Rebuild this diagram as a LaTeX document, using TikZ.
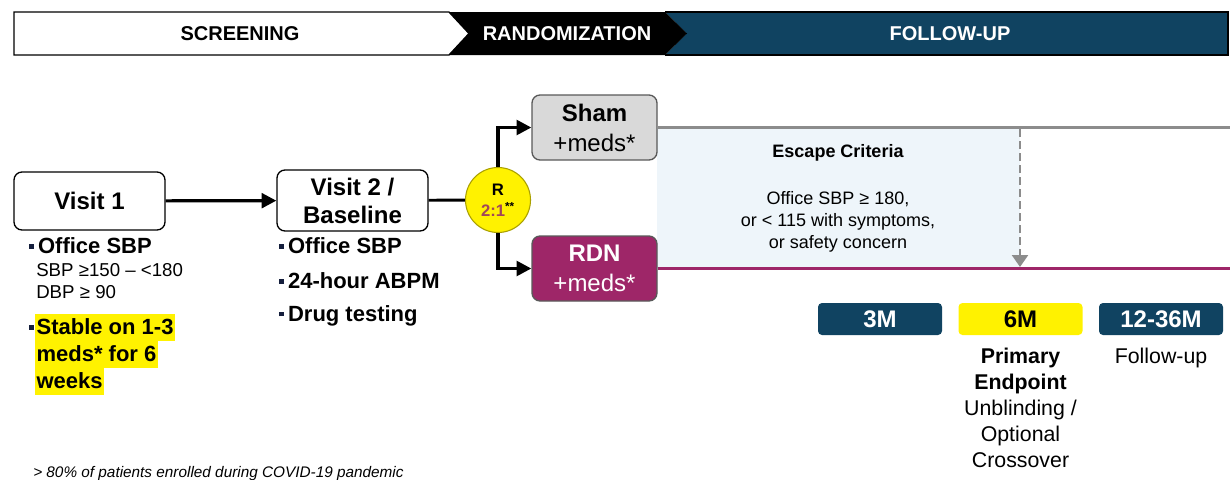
\documentclass[tikz,border=0pt]{standalone}
\usepackage{fontspec}
\setmainfont{Liberation Sans}
\usepackage{xcolor}
\usetikzlibrary{calc,shapes,arrows.meta,positioning,backgrounds}

\definecolor{fuBlue}{RGB}{16,67,97}
\definecolor{rdnMag}{RGB}{158,38,104}
\definecolor{shamGrey}{RGB}{217,217,217}
\definecolor{escBlue}{RGB}{238,245,250}
\definecolor{lineGrey}{RGB}{140,140,140}
\definecolor{ratioC}{RGB}{160,70,90}
\definecolor{ballEdge}{RGB}{170,160,0}
\definecolor{bulC}{RGB}{20,30,60}

\newcommand{\sqbul}{{\color{bulC}\rule[4pt]{3.6pt}{3.6pt}}\hspace{3pt}}

\begin{document}
\begin{tikzpicture}[x=0.75pt,y=-0.75pt,
    box/.style={draw,rounded corners=6pt,line width=1pt,inner sep=0pt,align=center},
    mbox/.style={rounded corners=3pt,inner sep=0pt,minimum width=93pt,minimum height=24pt,font=\fontsize{18}{20}\selectfont\bfseries},
    bul/.style={anchor=west,inner sep=0pt,font=\fontsize{16.5}{19}\selectfont\bfseries},
    sub/.style={anchor=west,inner sep=0pt,font=\fontsize{14}{16}\selectfont},
    hl/.style={anchor=west,fill=yellow,inner xsep=1pt,inner ysep=0pt,minimum height=20.25pt,font=\fontsize{16.5}{19}\selectfont\bfseries},
    flow/.style={line width=2.4pt,-{Triangle[length=11pt,width=11pt]}}]
        \useasboundingbox (0,0) rectangle (1230,479);

        %header
        \draw[line width=1pt,fill=white] (14,12) -- (449,12) -- (469,33.5) -- (449,55) -- (14,55) -- cycle;
        \fill[fuBlue] (665,12) -- (1228,12) -- (1228,55) -- (665,55) -- (687,33.5) -- cycle;
        \fill[black] (449,12) -- (665,12) -- (687,33.5) -- (665,55) -- (449,55) -- (469,33.5) -- cycle;
        \draw[line width=1pt] (665,12) -- (1228,12) -- (1228,55) -- (665,55);
        \begin{scope}[every node/.style={font=\fontsize{15}{17}\selectfont\bfseries}]
            \node (scr) at (240,33.5) {SCREENING};
            \node[white] (rand) at (567,33.5) {RANDOMIZATION};
            \node[white] (fu) at (950,33.5) {FOLLOW-UP};
        \end{scope}

        %escape zone
        \fill[escBlue] (657,128) rectangle (1020,268);

        %nodes
        \node[box,minimum width=113.25pt,minimum height=43.5pt,font=\fontsize{18}{21}\selectfont\bfseries] (V1) at (89.5,201) {Visit 1};
        \node[box,minimum width=113.25pt,minimum height=45.75pt,font=\fontsize{18}{21}\selectfont\bfseries] (V2) at (352.5,200.5) {Visit 2 /\\Baseline};
        \node[circle,draw=ballEdge,line width=0.8pt,fill=yellow,minimum size=48.75pt,inner sep=0pt,align=center,font=\fontsize{12.5}{16}\selectfont\bfseries] (R) at (498,200) {R\\{\color{ratioC}2:1}\textsuperscript{**}};
        \node[box,draw=black!65,fill=shamGrey,minimum width=93.75pt,minimum height=48.75pt,font=\fontsize{18}{22.5}\selectfont] (Sham) at (594.5,127.5) {\textbf{Sham}\\+meds*};
        \node[box,draw=black!65,fill=rdnMag,text=white,minimum width=93.75pt,minimum height=48.75pt,font=\fontsize{18}{23}\selectfont] (RDN) at (594.5,268.5) {\textbf{RDN}\\+meds*};

        \coordinate (shamEnd) at (1230,127.5);
        \coordinate (rdnEnd) at (1230,268.5);
        \coordinate (escTop) at (1020,129);
        \coordinate (escBot) at (1020,267);

        %lines
        \draw[flow] (V1) -- (V2);
        \draw[line width=2.2pt] (V2) -- (R);
        \draw[flow] (R.north) |- (Sham.west);
        \draw[flow] (R.south) |- (RDN.west);
        \draw[lineGrey,line width=2.2pt] (Sham.east) -- (shamEnd);
        \draw[rdnMag,line width=2.2pt] (RDN.east) -- (rdnEnd);
        \draw[lineGrey,dash pattern=on 6pt off 3pt,line width=1.8pt,-{Triangle[length=9pt,width=12pt]}] (escTop) -- (escBot);

        %escape criteria
        \node[font=\fontsize{13.5}{16}\selectfont\bfseries] (escT) at (838,153) {Escape Criteria};
        \node[align=center,font=\fontsize{13.5}{16.5}\selectfont] (escC) at (838,222) {Office SBP ≥ 180,\\or < 115 with symptoms,\\or safety concern};

        %visit 1 list
        \node[bul] (v1a) at (29,246) {\sqbul Office SBP};
        \node[sub] (v1b) at (36,270) {SBP ≥150 – <180};
        \node[sub] (v1c) at (36,292) {DBP ≥ 90};
        \node[hl] (v1e) at (35,327) {Stable on 1-3};
        \node[hl] (v1f) at (35,354) {meds* for 6};
        \node[hl] (v1g) at (35,381) {weeks};
        \node[bul,anchor=base east,xshift=-0.5pt] (v1d) at (v1e.base west) {\sqbul};

        %visit 2 list
        \node[bul] (v2a) at (279,246) {\sqbul Office SBP};
        \node[bul] (v2b) at (279,281) {\sqbul 24-hour ABPM};
        \node[bul] (v2c) at (279,316) {\sqbul Drug testing};

        %milestones
        \node[mbox,fill=fuBlue,text=white] (m3) at (880,319) {3M};
        \node[mbox,fill=yellow] (m6) at (1020.5,319) {6M};
        \node[mbox,fill=fuBlue,text=white] (m12) at (1161,319) {12-36M};
        \node[anchor=north,align=center,inner sep=0pt,font=\fontsize{16}{19.5}\selectfont] (prim) at (1020.5,348) {\textbf{Primary}\\\textbf{Endpoint}\\Unblinding /\\Optional\\Crossover};
        \node[anchor=north,inner sep=0pt,font=\fontsize{16}{19.5}\selectfont] (fol) at (1161,348) {Follow-up};

        %footnote
        \node[anchor=west,inner sep=0pt,font=\fontsize{11.5}{13}\selectfont\itshape] (foot) at (33,474) {> 80\% of patients enrolled during COVID-19 pandemic};
\end{tikzpicture}
\end{document}
